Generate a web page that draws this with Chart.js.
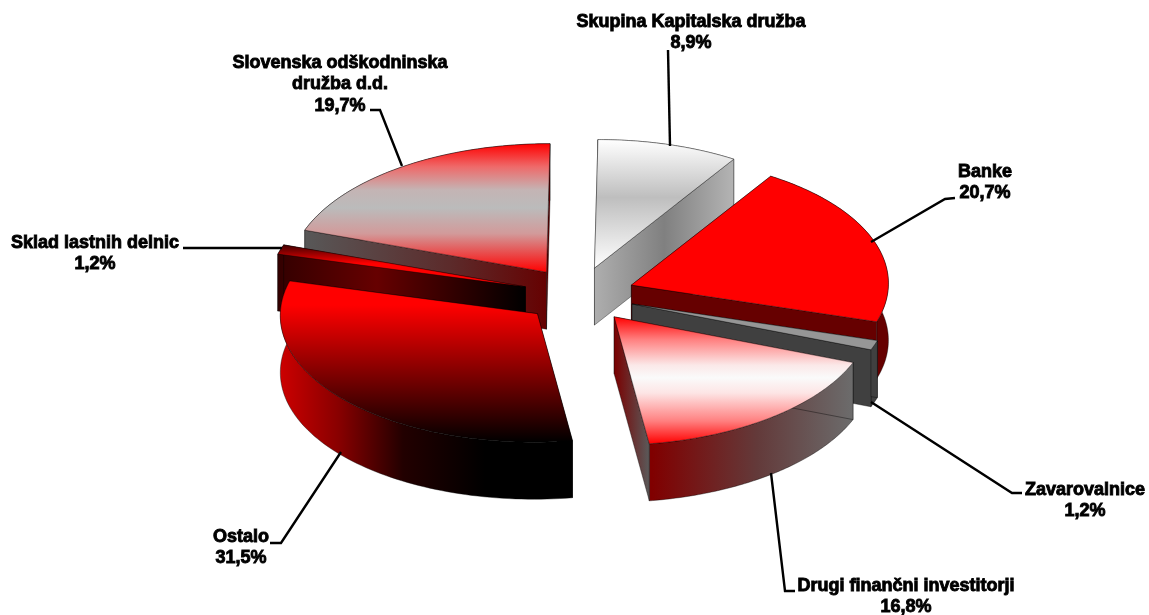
<!DOCTYPE html>
<html>
<head>
<meta charset="utf-8">
<title>Delničarji</title>
<script src="https://cdn.jsdelivr.net/npm/chart.js@4"></script>
<style>
  html, body { margin: 0; padding: 0; background: #fff; }
  #wrap { width: 1149px; height: 615px; }
</style>
</head>
<body>
<div id="wrap"><canvas id="pie"></canvas></div>
<script>
// data, clockwise from 12 o'clock
const categories = [
  ['Skupina Kapitalska družba'],
  ['Banke'],
  ['Zavarovalnice'],
  ['Drugi finančni investitorji'],
  ['Ostalo'],
  ['Sklad lastnih delnic'],
  ['Slovenska odškodninska', 'družba d.d.']
];
const shares = [8.9, 20.7, 1.2, 16.8, 31.5, 1.2, 19.7];

// top face colours: [position, colour] down the slice
const topFills = [
  [[0, '#ffffff'], [0.45, '#bebebe'], [1, '#ffffff']],
  [[0, '#ff0000'], [1, '#ff0000']],
  [[0, '#969696'], [1, '#969696']],
  [[0, '#ff0000'], [0.18, '#ff8080'], [0.38, '#fbe8e8'], [0.48, '#fafafa'], [0.6, '#fde5e5'], [0.82, '#ff8080'], [1, '#ff0000']],
  [[0, '#ff0000'], [0.15, '#ff0000'], [1, '#000000']],
  [[0, '#400000'], [0.45, '#ff0000'], [1, '#ff0000']],
  [[0, '#ff0000'], [0.18, '#ee6a6a'], [0.36, '#c4b4b4'], [0.5, '#bbbbbb'], [0.7, '#d29a9a'], [1, '#ff0000']]
];
// side wall colours: [position, colour] across the slice, left to right
const wallFills = [
  [[0, '#aeaeae'], [0.5, '#808080'], [1, '#b4b4b4']],
  [[0, '#660000'], [1, '#660000']],
  [[0, '#404040'], [1, '#404040']],
  [[0, '#800000'], [0.16, '#800000'], [0.6, '#633a3a'], [1, '#6c6c6c']],
  [[0, '#cc0000'], [0.2, '#880000'], [0.42, '#220000'], [0.7, '#000000'], [1, '#000000']],
  [[0, '#330000'], [0.4, '#660000'], [1, '#000000']],
  [[0, '#585858'], [0.6, '#5c2a2a'], [1, '#660000']]
];

// label anchor (centre x, first line y) and leader line for each slice
const labelSpots = [
  [691, 22], [985, 172], [1085, 490], [906, 586], [241, 537], [95, 243], [340, 63]
];
const leaders = [
  [[668, 50], [670, 146]],
  [[955, 198], [945, 199], [871, 242]],
  [[1022, 493], [1012, 493], [871, 402]],
  [[795, 591], [785, 591], [771, 473]],
  [[270, 543], [281, 543], [341, 452]],
  [[183, 248], [282, 248]],
  [[370, 110], [380, 110], [402, 166]]
];

const TILT = 0.5;    // vertical squash of the pie
const LEAN = 3.5;    // the ellipse leans a little to the right at the top
const DEPTH = 57;    // height of the extrusion
const LINE_H = 21.5;
const STEPS = 80;

function stopsGradient(g, stops) {
  stops.forEach(s => g.addColorStop(s[0], s[1]));
  return g;
}

// slice geometry on screen, from the arc element that chart.js laid out
function sliceShape(arc) {
  const p = arc.getProps(['x', 'y', 'startAngle', 'endAngle', 'outerRadius']);
  const mid = (p.startAngle + p.endAngle) / 2;
  const off = arc.options.offset;
  const cx = p.x + Math.cos(mid) * off;
  const cy = p.y + Math.sin(mid) * off * TILT;
  const rim = [];
  for (let i = 0; i <= STEPS; i++) {
    const a = p.startAngle + (p.endAngle - p.startAngle) * i / STEPS;
    rim.push([
      cx + Math.cos(a) * p.outerRadius - Math.sin(a) * LEAN,
      cy + Math.sin(a) * p.outerRadius * TILT
    ]);
  }
  const xs = rim.map(r => r[0]).concat(cx);
  const ys = rim.map(r => r[1]).concat(cy);
  return {
    cx, cy, rim,
    minX: Math.min(...xs), maxX: Math.max(...xs),
    minY: Math.min(...ys), maxY: Math.max(...ys)
  };
}

function drawCut(ctx, s, pt, fill) {
  ctx.beginPath();
  ctx.moveTo(s.cx, s.cy);
  ctx.lineTo(pt[0], pt[1]);
  ctx.lineTo(pt[0], pt[1] + DEPTH);
  ctx.lineTo(s.cx, s.cy + DEPTH);
  ctx.closePath();
  ctx.fillStyle = fill;
  ctx.fill();
  ctx.stroke();
}

function drawSlice(ctx, arc, i) {
  const s = sliceShape(arc);
  ctx.lineWidth = 0.7;
  ctx.strokeStyle = 'rgba(0,0,0,0.55)';
  ctx.lineJoin = 'round';

  const wall = stopsGradient(ctx.createLinearGradient(s.minX, 0, s.maxX, 0), wallFills[i]);
  const first = s.rim[0];
  const last = s.rim[STEPS];

  // outer wall
  ctx.beginPath();
  s.rim.forEach((r, k) => k ? ctx.lineTo(r[0], r[1]) : ctx.moveTo(r[0], r[1]));
  for (let k = STEPS; k >= 0; k--) ctx.lineTo(s.rim[k][0], s.rim[k][1] + DEPTH);
  ctx.closePath();
  ctx.fillStyle = wall;
  ctx.fill();
  ctx.stroke();

  // the two cut faces
  drawCut(ctx, s, first, wall);
  let endWall = wall;
  if (i === 3) { // this one fades on its own from red to grey
    endWall = ctx.createLinearGradient(s.cx, 0, last[0], 0);
    endWall.addColorStop(0, '#7a0000');
    endWall.addColorStop(1, '#5a5a5a');
  }
  drawCut(ctx, s, last, endWall);

  // top face
  ctx.beginPath();
  ctx.moveTo(s.cx, s.cy);
  s.rim.forEach(r => ctx.lineTo(r[0], r[1]));
  ctx.closePath();
  ctx.fillStyle = stopsGradient(ctx.createLinearGradient(0, s.minY, 0, s.maxY), topFills[i]);
  ctx.fill();
  ctx.stroke();
}

function drawLabels(ctx) {
  ctx.strokeStyle = '#000';
  ctx.lineWidth = 2.4;
  ctx.lineJoin = 'miter';
  leaders.forEach(pts => {
    ctx.beginPath();
    pts.forEach((pt, k) => k ? ctx.lineTo(pt[0], pt[1]) : ctx.moveTo(pt[0], pt[1]));
    ctx.stroke();
  });

  ctx.font = 'bold 18px "Liberation Sans", Arial, sans-serif';
  ctx.textAlign = 'center';
  ctx.textBaseline = 'middle';
  ctx.fillStyle = '#000';
  ctx.lineWidth = 0.9;
  categories.forEach((lines, i) => {
    const rows = lines.concat(shares[i].toFixed(1).replace('.', ',') + '%');
    rows.forEach((t, k) => {
      const y = labelSpots[i][1] + k * LINE_H;
      ctx.fillText(t, labelSpots[i][0], y);
      ctx.strokeText(t, labelSpots[i][0], y);
    });
  });
}

// chart.js lays the slices out flat, this draws them tilted and extruded
const pie3d = {
  id: 'pie3d',
  beforeDatasetsDraw(chart) {
    const ctx = chart.ctx;
    const arcs = chart.getDatasetMeta(0).data;
    const order = arcs.map((a, i) => i).sort((a, b) => {
      return sliceShape(arcs[a]).cy - sliceShape(arcs[b]).cy;
    });
    ctx.save();
    order.forEach(i => drawSlice(ctx, arcs[i], i));
    drawLabels(ctx);
    ctx.restore();
    return false; // skip the flat arcs
  }
};

new Chart(document.getElementById('pie').getContext('2d'), {
  type: 'pie',
  data: {
    labels: categories.map(c => c.join(' ')),
    datasets: [{ data: shares, offset: 56, borderWidth: 0 }]
  },
  options: {
    responsive: true,
    maintainAspectRatio: false,
    animation: false,
    radius: 257,
    layout: { padding: { left: 9, bottom: 25 } },
    plugins: { legend: { display: false }, tooltip: { enabled: false } }
  },
  plugins: [pie3d]
});
</script>
</body>
</html>
